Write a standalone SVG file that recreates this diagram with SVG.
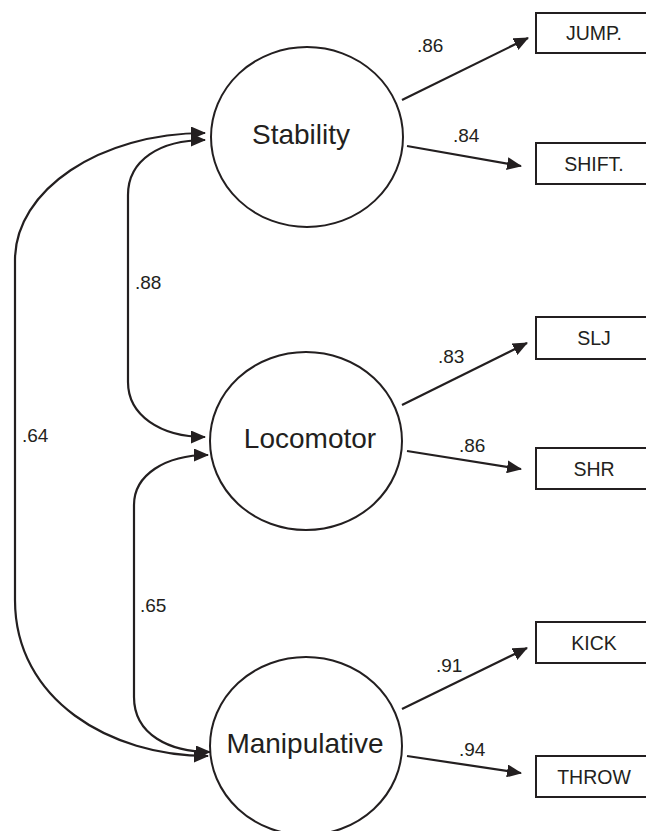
<svg xmlns="http://www.w3.org/2000/svg" width="646" height="831" viewBox="0 0 646 831">
<style>
.node{fill:#fff;stroke:#231f20;stroke-width:2}
.box{fill:#fff;stroke:#231f20;stroke-width:2}
.conn{fill:none;stroke:#231f20;stroke-width:2.2}
.lat{font-family:"Liberation Sans",Arial,sans-serif;font-size:28px;fill:#231f20;text-anchor:middle}
.obs{font-family:"Liberation Sans",Arial,sans-serif;font-size:19.5px;fill:#231f20;text-anchor:middle}
.lbl{font-family:"Liberation Sans",Arial,sans-serif;font-size:19px;fill:#231f20}
</style>
<defs>
<marker id="ah" markerUnits="userSpaceOnUse" markerWidth="15" markerHeight="13" refX="14" refY="6.5" orient="auto-start-reverse" viewBox="0 0 15 13">
<path d="M0,0 L15,6.5 L0,13 z" fill="#231f20"/>
</marker>
</defs>
<rect width="646" height="831" fill="#fff"/>
<g id="connectors">
<path class="conn" marker-end="url(#ah)" d="M402,100 L528,38"/>
<path class="conn" marker-end="url(#ah)" d="M407,146 L521,166"/>
<path class="conn" marker-end="url(#ah)" d="M402,405 L527,343"/>
<path class="conn" marker-end="url(#ah)" d="M407,451 L521,469"/>
<path class="conn" marker-end="url(#ah)" d="M402,709 L527,648"/>
<path class="conn" marker-end="url(#ah)" d="M407,756 L521,773"/>
<path class="conn" marker-start="url(#ah)" marker-end="url(#ah)" d="M205,140 C160,140 128,160 128,195 L128,382 C128,415 160,437 205,437"/>
<path class="conn" marker-start="url(#ah)" marker-end="url(#ah)" d="M208,455 C165,455 134,475 134,505 L134,697 C134,735 170,752 210,752"/>
<path class="conn" marker-start="url(#ah)" marker-end="url(#ah)" d="M205,133 C100,133 15,190 15,260 L15,600 C15,700 110,756 208,756"/>
<text class="lbl" x="417" y="52">.86</text>
<text class="lbl" x="453" y="142">.84</text>
<text class="lbl" x="438" y="363">.83</text>
<text class="lbl" x="459" y="452">.86</text>
<text class="lbl" x="436" y="672">.91</text>
<text class="lbl" x="459" y="756">.94</text>
<text class="lbl" x="135" y="289">.88</text>
<text class="lbl" x="22" y="442">.64</text>
<text class="lbl" x="140" y="612">.65</text>
</g>
<g id="stability">
<ellipse class="node" cx="307" cy="137" rx="96" ry="90"/>
<text class="lat" x="301" y="144">Stability</text>
</g>
<g id="locomotor">
<ellipse class="node" cx="306" cy="441" rx="96" ry="89"/>
<text class="lat" x="310" y="448">Locomotor</text>
</g>
<g id="manipulative">
<ellipse class="node" cx="306" cy="746" rx="96" ry="89"/>
<text class="lat" x="305" y="753">Manipulative</text>
</g>
<g id="jump"><rect class="box" x="536" y="13" width="116" height="40"/><text class="obs" x="594" y="40">JUMP.</text></g>
<g id="shift"><rect class="box" x="536" y="143" width="116" height="41"/><text class="obs" x="594" y="171">SHIFT.</text></g>
<g id="slj"><rect class="box" x="536" y="317" width="116" height="42"/><text class="obs" x="594" y="345">SLJ</text></g>
<g id="shr"><rect class="box" x="536" y="448" width="116" height="41"/><text class="obs" x="594" y="476">SHR</text></g>
<g id="kick"><rect class="box" x="536" y="622" width="116" height="41"/><text class="obs" x="594" y="650">KICK</text></g>
<g id="throw"><rect class="box" x="536" y="756" width="116" height="41"/><text class="obs" x="594" y="784">THROW</text></g>
</svg>
